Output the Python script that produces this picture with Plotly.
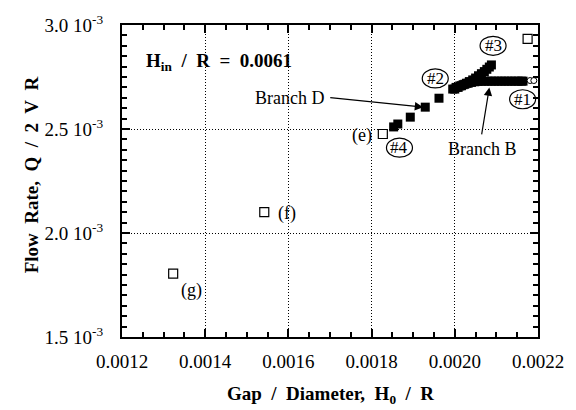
import plotly.graph_objects as go

# ---- data ----
open_sq_x = [0.001323, 0.001542, 0.001827, 0.002175]
open_sq_y = [0.001805, 0.002100, 0.002476, 0.002933]

open_circ_x = [0.002181, 0.002190]
open_circ_y = [0.002733, 0.002733]

branch_d_x = [0.001853, 0.001863, 0.001893, 0.001929, 0.001962,
              0.001995, 0.002003, 0.002012, 0.002020, 0.002028, 0.002035,
              0.002043, 0.002050, 0.002057, 0.002064, 0.002071, 0.002077,
              0.002083, 0.002088]
branch_d_y = [0.002510, 0.002524, 0.002557, 0.002605, 0.002648,
              0.002692, 0.002700, 0.002707, 0.002713, 0.002720, 0.002728,
              0.002736, 0.002745, 0.002756, 0.002766, 0.002776, 0.002787,
              0.002798, 0.002808]

branch_b_x = [0.002000, 0.002008, 0.002016, 0.002024, 0.002032, 0.002040,
              0.002048, 0.002056, 0.002064, 0.002072, 0.002080, 0.002088,
              0.002096, 0.002104, 0.002112, 0.002120, 0.002128, 0.002136,
              0.002144, 0.002152, 0.002160, 0.002164]
branch_b_y = [0.002692, 0.002700, 0.002708, 0.002715, 0.002720, 0.002724,
              0.002727, 0.002729, 0.002730, 0.002730, 0.002730, 0.002730,
              0.002730, 0.002730, 0.002730, 0.002730, 0.002730, 0.002730,
              0.002730, 0.002730, 0.002730, 0.002730]

x_ticks = [0.0012, 0.0014, 0.0016, 0.0018, 0.0020, 0.0022]
x_ticktext = ["0.0012", "0.0014", "0.0016", "0.0018", "0.0020", "0.0022"]
y_ticks = [0.0015, 0.0020, 0.0025, 0.0030]
y_ticktext = ["1.5 10<sup>-3</sup>", "2.0 10<sup>-3</sup>",
              "2.5 10<sup>-3</sup>", "3.0 10<sup>-3</sup>"]

# circled labels: (text, x, y)
circ_labels = [("#1", 0.002163, 0.002643), ("#2", 0.001953, 0.002743),
               ("#3", 0.002092, 0.002900), ("#4", 0.001867, 0.002410)]
text_labels = [("(e)", 0.001778, 0.002467), ("(f)", 0.001597, 0.002095),
               ("(g)", 0.001366, 0.001724)]

SERIF = "Liberation Serif"

fig = go.Figure()
fig.add_trace(go.Scatter(x=branch_b_x, y=branch_b_y, mode="markers",
                         marker=dict(symbol="square", size=9, color="black"),
                         showlegend=False))
fig.add_trace(go.Scatter(x=branch_d_x, y=branch_d_y, mode="markers",
                         marker=dict(symbol="square", size=9, color="black"),
                         showlegend=False))
fig.add_trace(go.Scatter(x=open_sq_x, y=open_sq_y, mode="markers",
                         marker=dict(symbol="square-open", size=9, color="black",
                                     line=dict(width=1.2)),
                         showlegend=False))
fig.add_trace(go.Scatter(x=open_circ_x, y=open_circ_y, mode="markers",
                         marker=dict(symbol="circle", size=6, color="white",
                                     line=dict(width=1, color="black")),
                         showlegend=False))

ann = []
shapes = []
for t, x, y in circ_labels:
    shapes.append(dict(type="circle", xref="x", yref="y", xsizemode="pixel",
                       ysizemode="pixel", xanchor=x, yanchor=y,
                       x0=-13, x1=13, y0=-9.5, y1=9.5,
                       line=dict(color="black", width=1.2)))
    ann.append(dict(x=x, y=y, text=t, showarrow=False,
                    font=dict(family=SERIF, size=17, color="black")))
for t, x, y in text_labels:
    ann.append(dict(x=x, y=y, text=t, showarrow=False,
                    font=dict(family=SERIF, size=18, color="black")))

ann.append(dict(x=0.001602, y=0.002648, text="Branch D", showarrow=False,
                font=dict(family=SERIF, size=18, color="black")))
ann.append(dict(x=0.002066, y=0.002405, text="Branch B", showarrow=False,
                font=dict(family=SERIF, size=18, color="black")))
ann.append(dict(x=0.001924, y=0.002605, ax=0.001697, ay=0.002652,
                axref="x", ayref="y", text="", showarrow=True,
                arrowhead=2, arrowsize=1.4, arrowwidth=1.2, arrowcolor="black"))
ann.append(dict(x=0.002083, y=0.002700, ax=0.002064, ay=0.002467,
                axref="x", ayref="y", text="", showarrow=True,
                arrowhead=2, arrowsize=1.4, arrowwidth=1.2, arrowcolor="black"))
ann.append(dict(x=0.001254, y=0.002824, xanchor="left",
                text="<b>H<sub>in</sub>&nbsp; /&nbsp; R&nbsp; =&nbsp; 0.0061</b>",
                showarrow=False,
                font=dict(family=SERIF, size=19, color="black")))
ann.append(dict(xref="paper", yref="paper", x=0.5, y=-0.185,
                xanchor="center", yanchor="middle",
                text="<b>Gap&nbsp; /&nbsp; Diameter,&nbsp; H<sub>0</sub>&nbsp; /&nbsp; R</b>",
                showarrow=False,
                font=dict(family=SERIF, size=19, color="black")))
ann.append(dict(xref="paper", yref="paper", x=-0.2175, y=0.52, textangle=-90,
                xanchor="center", yanchor="middle",
                text="<b>Flow&nbsp; Rate,&nbsp; Q&nbsp; /&nbsp; 2&nbsp; V&nbsp; R</b>",
                showarrow=False,
                font=dict(family=SERIF, size=19, color="black")))

axis_common = dict(showline=True, linecolor="black", linewidth=2,
                   mirror="allticks", ticks="inside", ticklen=8, tickwidth=1.5,
                   tickcolor="black", showgrid=True, gridcolor="black",
                   griddash="1px,2px", gridwidth=1, zeroline=False,
                   tickfont=dict(family=SERIF, size=19, color="black"))

fig.update_layout(
    width=576, height=410,
    margin=dict(l=122, r=31, t=23, b=73),
    paper_bgcolor="white", plot_bgcolor="white",
    xaxis=dict(range=[0.0012, 0.0022], tickvals=x_ticks, ticktext=x_ticktext,
               ticklabelstandoff=6,
               minor=dict(ticks="inside", dtick=0.00005, ticklen=5,
                          tickcolor="black", tickwidth=1.5, showgrid=False),
               **axis_common),
    yaxis=dict(range=[0.0015, 0.0030], tickvals=y_ticks, ticktext=y_ticktext,
               ticklabelstandoff=13,
               minor=dict(ticks="inside", dtick=0.00005, ticklen=5,
                          tickcolor="black", tickwidth=1.5, showgrid=False),
               **axis_common),
    annotations=ann, shapes=shapes,
)
fig.write_html("out.html")
